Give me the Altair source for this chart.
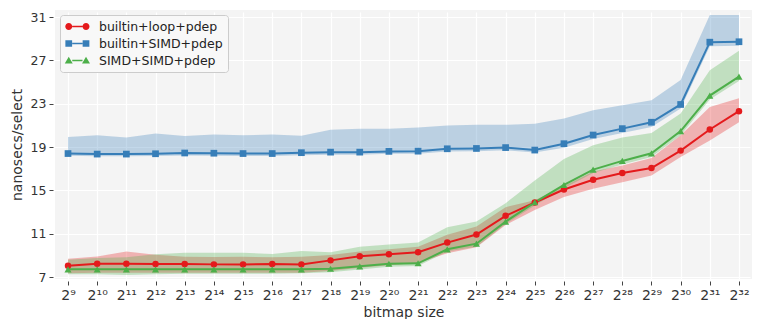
import altair as alt
import pandas as pd

exps = list(range(9, 33))
series = ["builtin+loop+pdep", "builtin+SIMD+pdep", "SIMD+SIMD+pdep"]
colors = ["#e41a1c", "#377eb8", "#4daf4a"]
sup = ["⁹", "¹⁰", "¹¹", "¹²", "¹³", "¹⁴", "¹⁵", "¹⁶", "¹⁷", "¹⁸", "¹⁹", "²⁰",
       "²¹", "²²", "²³", "²⁴", "²⁵", "²⁶", "²⁷", "²⁸", "²⁹", "³⁰", "³¹", "³²"]
yticks = [7, 11, 15, 19, 23, 27, 31]

loop_mean = [8.05, 8.23, 8.23, 8.2, 8.2, 8.17, 8.17, 8.2, 8.17, 8.54, 8.91, 9.1,
             9.29, 10.18, 10.92, 12.65, 13.88, 15.08, 15.98, 16.6, 17.06, 18.67, 20.62, 22.31]
loop_hi = [8.7, 8.9, 9.35, 9.05, 8.88, 8.85, 8.88, 8.82, 8.88, 9.04, 9.35, 9.56,
           9.8, 10.9, 11.66, 13.45, 14.1, 15.4, 16.75, 17.3, 18.0, 20.08, 22.7, 23.5]
loop_lo = [7.35, 7.4, 7.4, 7.4, 7.4, 7.4, 7.4, 7.4, 7.4, 7.55, 7.85, 8.1,
           8.3, 9.2, 9.75, 11.8, 13.2, 14.4, 15.14, 15.75, 16.37, 18.07, 19.6, 21.3]

simd_mean = [18.4, 18.35, 18.35, 18.38, 18.45, 18.43, 18.4, 18.4, 18.48, 18.53, 18.53, 18.6,
             18.62, 18.84, 18.87, 18.95, 18.72, 19.31, 20.11, 20.7, 21.29, 22.93, 28.68, 28.72]
simd_hi = [19.93, 20.08, 19.87, 20.24, 20.02, 20.15, 20.08, 20.15, 20.05, 20.6, 20.7, 20.7,
           20.8, 20.98, 21.05, 21.05, 21.15, 21.63, 22.4, 22.86, 23.33, 25.2, 31.2, 31.2]
simd_lo = [18.2, 18.15, 18.15, 18.17, 18.22, 18.2, 18.18, 18.18, 18.25, 18.3, 18.3, 18.37,
           18.38, 18.58, 18.62, 18.7, 18.5, 18.94, 19.74, 20.3, 20.86, 22.56, 28.3, 28.35]

ss_mean = [7.71, 7.71, 7.71, 7.71, 7.71, 7.71, 7.71, 7.71, 7.71, 7.77, 7.99, 8.23,
           8.27, 9.56, 10.08, 12.12, 13.9, 15.5, 16.92, 17.72, 18.42, 20.47, 23.75, 25.5]
ss_hi = [8.6, 8.75, 8.82, 9.1, 9.25, 9.25, 9.25, 9.13, 9.4, 9.28, 9.8, 10.0,
         10.18, 11.6, 12.12, 13.82, 15.92, 17.9, 19.16, 19.87, 20.3, 22.1, 26.1, 27.9]
ss_lo = [7.25, 7.25, 7.2, 7.25, 7.3, 7.3, 7.3, 7.3, 7.35, 7.45, 7.7, 7.95,
         8.02, 9.35, 9.8, 11.9, 13.6, 15.2, 16.6, 17.4, 18.07, 20.1, 23.4, 25.1]

means = [loop_mean, simd_mean, ss_mean]
his = [loop_hi, simd_hi, ss_hi]
los = [loop_lo, simd_lo, ss_lo]

rows = []
for name, m_, l_, h_ in zip(series, means, los, his):
    for e, m, l, h in zip(exps, m_, l_, h_):
        rows.append({"series": name, "exp": e, "mean": m, "lo": l, "hi": h})
df = pd.DataFrame(rows)

# legend symbols: a line with two markers (unit = sqrt(symbolSize)/2 px)
LINE = "M0.12,-0.14H1.8V0.14H0.12Z"
legend_paths = [
    LINE
    + "M-1.02,0A0.57,0.57 0 1,1 0.12,0A0.57,0.57 0 1,1 -1.02,0Z"
    + "M1.8,0A0.57,0.57 0 1,1 2.94,0A0.57,0.57 0 1,1 1.8,0Z",
    LINE
    + "M-1.0,-0.55H0.1V0.55H-1.0Z"
    + "M1.82,-0.55H2.92V0.55H1.82Z",
    LINE
    + "M-0.45,-0.62L0.2,0.5H-1.1Z"
    + "M2.37,-0.62L3.02,0.5H1.72Z",
]

label_expr = "'2' + split('" + ",".join(sup) + "', ',')[datum.value - 9]"

color_scale = alt.Scale(domain=series, range=colors)
xaxis = alt.Axis(values=exps, labelExpr=label_expr, title="bitmap size",
                 labelFontSize=14, titlePadding=3, labelOverlap=False,
                 labelFlush=False)
xscale = alt.Scale(domain=[8.554, 32.446], nice=False, zero=False)
yscale = alt.Scale(domain=[6.82, 31.65], nice=False, zero=False)
yaxis = alt.Axis(values=yticks, title="nanosecs/select", labelFontSize=12.5, titlePadding=6)

legend = alt.Legend(orient="none", legendX=5, legendY=5, title=None,
                    fillColor="#f8f8f8", strokeColor="#cccccc", cornerRadius=3,
                    padding=5, labelFontSize=12.5, labelColor="#222222",
                    symbolSize=150, rowPadding=4, labelOffset=21, symbolStrokeWidth=0,
                    labelFont="DejaVu Sans")

X = alt.X("exp:Q", scale=xscale, axis=xaxis)

legend_layer = alt.Chart(df).transform_filter("datum.exp < 0").mark_point(filled=True, opacity=1).encode(
    x=X,
    y=alt.Y("mean:Q", scale=yscale, axis=yaxis),
    color=alt.Color("series:N", scale=color_scale, legend=legend),
    shape=alt.Shape("series:N", scale=alt.Scale(domain=series, range=legend_paths), legend=legend),
)

band_layers = []
for name in [series[1], series[0], series[2]]:
    band_layers.append(
        alt.Chart(df).transform_filter(alt.datum.series == name).mark_area(opacity=0.3).encode(
            x=X,
            y=alt.Y("lo:Q", scale=yscale, axis=yaxis),
            y2="hi:Q",
            color=alt.Color("series:N", scale=color_scale, legend=None),
        )
    )

lines = alt.Chart(df).mark_line(strokeWidth=2).encode(
    x=X,
    y=alt.Y("mean:Q", scale=yscale, axis=yaxis),
    color=alt.Color("series:N", scale=color_scale, legend=None),
    detail="series:N",
)

shapes = ["circle", "square", "triangle-up"]
sizes = [42, 45, 50]
point_layers = []
for name, shp, sz in zip(series, shapes, sizes):
    point_layers.append(
        alt.Chart(df).transform_filter(alt.datum.series == name).mark_point(
            filled=True, shape=shp, size=sz, opacity=1).encode(
            x=X,
            y=alt.Y("mean:Q", scale=yscale, axis=yaxis),
            color=alt.Color("series:N", scale=color_scale, legend=None),
        )
    )

chart = alt.layer(legend_layer, *band_layers, lines, *point_layers).properties(
    width=697, height=269,
    autosize=alt.AutoSizeParams(type="none"),
    padding={"left": 47, "top": 2, "right": 3, "bottom": 40},
).configure_view(
    fill="#f4f4f4", strokeWidth=0
).configure_axis(
    grid=True, gridColor="#ffffff", gridWidth=1.2, domain=False,
    tickColor="#444444", tickSize=4, tickWidth=1, offset=2,
    labelColor="#333333", titleColor="#333333", labelFont="DejaVu Sans",
    titleFont="DejaVu Sans", titleFontSize=14, titleFontWeight="normal", labelPadding=3,
).configure_axisX(
    labelOverlap=False, labelFlush=False
)

chart.save("out.html", embed_options={"renderer": "svg", "actions": False})
